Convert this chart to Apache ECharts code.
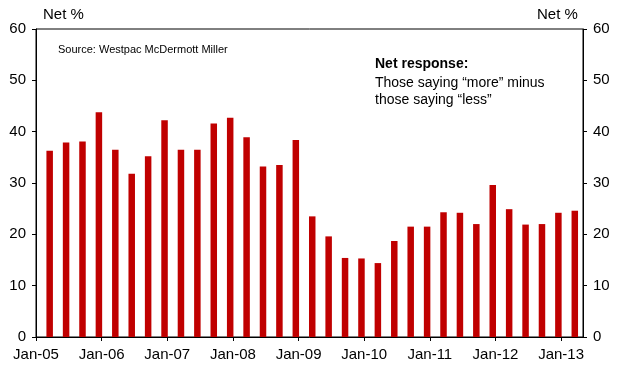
<!DOCTYPE html>
<html>
<head>
<meta charset="utf-8">
<script src="https://cdn.jsdelivr.net/npm/echarts@6/dist/echarts.min.js"></script>
<style>
  html, body { margin: 0; padding: 0; background: #fff; }
  #chart { width: 617px; height: 365px; }
</style>
</head>
<body>
<div id="chart"></div>
<script>
// Quarterly survey readings (quarter-end months)
const quarters = [
  'Mar-05', 'Jun-05', 'Sep-05', 'Dec-05',
  'Mar-06', 'Jun-06', 'Sep-06', 'Dec-06',
  'Mar-07', 'Jun-07', 'Sep-07', 'Dec-07',
  'Mar-08', 'Jun-08', 'Sep-08', 'Dec-08',
  'Mar-09', 'Jun-09', 'Sep-09', 'Dec-09',
  'Mar-10', 'Jun-10', 'Sep-10', 'Dec-10',
  'Mar-11', 'Jun-11', 'Sep-11', 'Dec-11',
  'Mar-12', 'Jun-12', 'Sep-12', 'Dec-12',
  'Mar-13'
];
const netPercent = [
  36.3, 37.9, 38.1, 43.8,
  36.5, 31.8, 35.2, 42.2,
  36.5, 36.5, 41.6, 42.7,
  38.9, 33.2, 33.5, 38.4,
  23.5, 19.6, 15.4, 15.3,
  14.4, 18.7, 21.5, 21.5,
  24.3, 24.2, 22.0, 29.6,
  24.9, 21.9, 22.0, 24.2,
  24.6
];
const yTicks = [0, 10, 20, 30, 40, 50, 60];

// Month axis: 0 = start of Jan-05, runs through the end of Apr-13
const MONTHS = ['Jan','Feb','Mar','Apr','May','Jun','Jul','Aug','Sep','Oct','Nov','Dec'];
const START_YEAR = 2005;
const AXIS_MONTHS = 100;

function monthSlot(label) {
  const [m, yy] = label.split('-');
  const year = 2000 + parseInt(yy, 10);
  return (year - START_YEAR) * 12 + MONTHS.indexOf(m) + 0.5;
}

const barData = quarters.map((q, i) => [monthSlot(q), netPercent[i]]);

const FONT = 'Liberation Sans, Arial, sans-serif';
const INK = '#000';

const chart = echarts.init(document.getElementById('chart'), null, { renderer: 'canvas' });

const yAxisCommon = {
  type: 'value',
  min: yTicks[0],
  max: yTicks[yTicks.length - 1],
  interval: 10,
  splitLine: { show: false },
  axisLine: { show: true, lineStyle: { color: INK, width: 1 } },
  axisTick: { show: true, length: 4, lineStyle: { color: INK } },
  axisLabel: { color: INK, fontFamily: FONT, fontSize: 15, margin: 10 }
};

chart.setOption({
  animation: false,
  backgroundColor: '#fff',
  grid: {
    left: 36, right: 34, top: 29, bottom: 28,
    show: true, borderColor: INK, borderWidth: 1,
    containLabel: false
  },
  xAxis: {
    type: 'value',
    min: 0,
    max: AXIS_MONTHS,
    interval: 12,
    splitLine: { show: false },
    axisLine: { show: true, onZero: false, lineStyle: { color: INK, width: 1 } },
    axisTick: { show: true, length: 4, lineStyle: { color: INK } },
    axisLabel: {
      color: INK, fontFamily: FONT, fontSize: 15, margin: 10,
      showMaxLabel: false,
      formatter: function (v) {
        if (v % 12 !== 0) return '';
        const yy = (START_YEAR + v / 12) % 100;
        return 'Jan-' + String(yy).padStart(2, '0');
      }
    }
  },
  yAxis: [
    Object.assign({ position: 'left' }, yAxisCommon),
    Object.assign({ position: 'right' }, yAxisCommon)
  ],
  graphic: [
    { type: 'text', left: 43, top: 7,
      style: { text: 'Net %', font: '15px ' + FONT, fill: INK } },
    { type: 'text', left: 537, top: 7,
      style: { text: 'Net %', font: '15px ' + FONT, fill: INK } },
    { type: 'text', left: 58, top: 44,
      style: { text: 'Source: Westpac McDermott Miller', font: '11px ' + FONT, fill: INK } },
    { type: 'text', left: 375, top: 57,
      style: { text: 'Net response:', font: 'bold 14px ' + FONT, fill: INK } },
    { type: 'text', left: 375, top: 75,
      style: { text: 'Those saying \u201cmore\u201d minus\nthose saying \u201cless\u201d',
               font: '14px ' + FONT, fill: INK, lineHeight: 17 } }
  ],
  series: [{
    type: 'bar',
    xAxisIndex: 0,
    yAxisIndex: 0,
    data: barData,
    barWidth: 6.5,
    itemStyle: { color: '#C00000' }
  }]
});
</script>
</body>
</html>
